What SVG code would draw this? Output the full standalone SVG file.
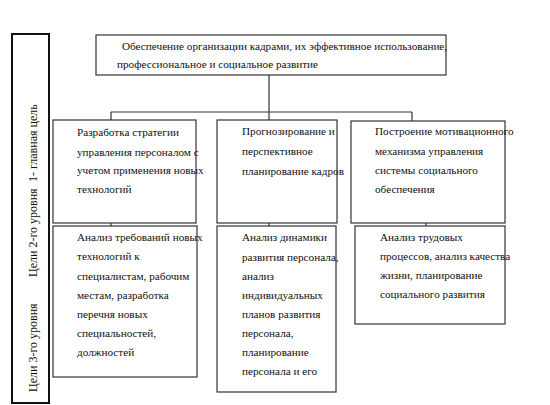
<svg xmlns="http://www.w3.org/2000/svg" width="550" height="405" viewBox="0 0 550 405">
<style>
.box{fill:#fff;stroke:#333;stroke-width:1.2}
.side{fill:none;stroke:#111;stroke-width:2}
.t{font-family:"Liberation Serif","Times New Roman",serif;font-size:11.2px;fill:#111}
.r{font-family:"Liberation Serif","Times New Roman",serif;font-size:12px;fill:#111}
.c{fill:none;stroke:#333;stroke-width:1.2}
</style>
<rect width="550" height="405" fill="#fff"/>
<g id="side">
<rect class="side" x="12" y="34" width="37" height="369"/>
<text class="r" transform="translate(37,182) rotate(-90)">1- главная цель</text>
<text class="r" transform="translate(37,277) rotate(-90)">Цели 2-го уровня</text>
<text class="r" transform="translate(37,392) rotate(-90)">Цели 3-го уровня</text>
</g>
<g id="connectors">
<path class="c" d="M269,75 V120 M111,112 H412 M111,112 V120 M412,112 V121 M111,211 V226 M269,211 V226 M426,211 V226"/>
</g>
<g id="main">
<rect class="box" x="96" y="35" width="350" height="40"/>
<text class="t" x="122" y="50">Обеспечение организации кадрами, их эффективное использование,</text>
<text class="t" x="117" y="68">профессиональное и социальное развитие</text>
</g>
<g id="n21">
<rect class="box" x="53" y="120" width="143" height="103"/>
<text class="t"><tspan x="77" y="136">Разработка стратегии</tspan><tspan x="77" y="156">управления персоналом с</tspan><tspan x="77" y="174">учетом применения новых</tspan><tspan x="77" y="193">технологий</tspan></text>
</g>
<g id="n22">
<rect class="box" x="217" y="120" width="120" height="103"/>
<text class="t"><tspan x="242" y="135">Прогнозирование и</tspan><tspan x="242" y="155">перспективное</tspan><tspan x="242" y="175">планирование кадров</tspan></text>
</g>
<g id="n23">
<rect class="box" x="351" y="121" width="154" height="102"/>
<text class="t"><tspan x="375" y="135">Построение мотивационного</tspan><tspan x="375" y="155">механизма управления</tspan><tspan x="375" y="174">системы социального</tspan><tspan x="375" y="193">обеспечения</tspan></text>
</g>
<g id="n31">
<rect class="box" x="53" y="226" width="144" height="151"/>
<text class="t"><tspan x="77" y="241">Анализ требований новых</tspan><tspan x="77" y="260">технологий к</tspan><tspan x="77" y="280">специалистам, рабочим</tspan><tspan x="77" y="299">местам, разработка</tspan><tspan x="77" y="318">перечня новых</tspan><tspan x="77" y="337">специальностей,</tspan><tspan x="77" y="356">должностей</tspan></text>
</g>
<g id="n32">
<rect class="box" x="217" y="226" width="119" height="166"/>
<text class="t"><tspan x="242" y="241">Анализ динамики</tspan><tspan x="242" y="261">развития персонала,</tspan><tspan x="242" y="280">анализ</tspan><tspan x="242" y="299">индивидуальных</tspan><tspan x="242" y="318">планов развития</tspan><tspan x="242" y="337">персонала,</tspan><tspan x="242" y="356">планирование</tspan><tspan x="242" y="375">персонала и его</tspan></text>
</g>
<g id="n33">
<rect class="box" x="355" y="226" width="150" height="98"/>
<text class="t"><tspan x="380" y="241">Анализ трудовых</tspan><tspan x="380" y="260">процессов, анализ качества</tspan><tspan x="380" y="279">жизни, планирование</tspan><tspan x="380" y="298">социального развития</tspan></text>
</g>
</svg>
